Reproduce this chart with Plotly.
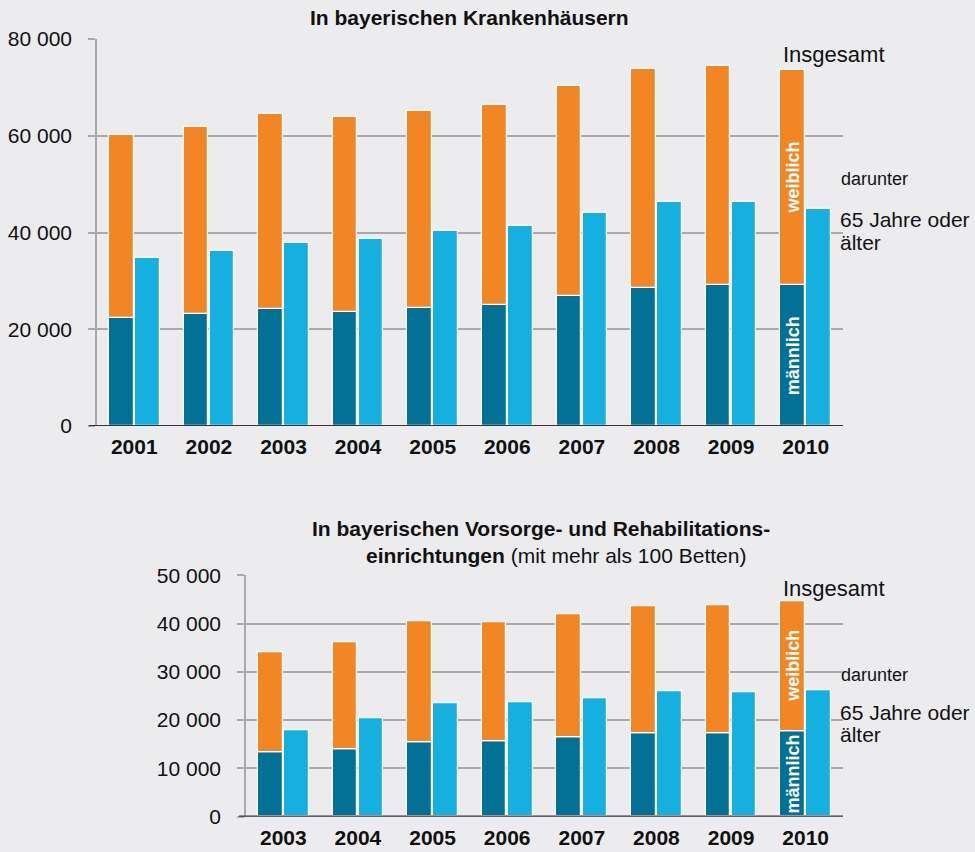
import plotly.graph_objects as go

# ---- Data: In bayerischen Krankenhäusern ----
jahre_kh = ["2001", "2002", "2003", "2004", "2005", "2006", "2007", "2008", "2009", "2010"]
insgesamt_kh = [60200, 61900, 64500, 63900, 65200, 66400, 70300, 73800, 74500, 73500]
maennlich_kh = [22300, 23100, 24100, 23500, 24300, 25000, 26800, 28600, 29100, 29100]
ab65_kh = [34700, 36200, 37900, 38600, 40400, 41400, 44000, 46300, 46300, 44900]

# ---- Data: In bayerischen Vorsorge- und Rehabilitationseinrichtungen ----
jahre_reha = ["2003", "2004", "2005", "2006", "2007", "2008", "2009", "2010"]
insgesamt_reha = [33950, 36100, 40400, 40300, 41900, 43500, 43800, 44650]
maennlich_reha = [13350, 14000, 15450, 15550, 16450, 17200, 17350, 17750]
ab65_reha = [17950, 20450, 23450, 23700, 24550, 25950, 25750, 26250]

tick_kh = [0, 20000, 40000, 60000, 80000]
tick_kh_text = ["0", "20 000", "40 000", "60 000", "80 000"]
tick_reha = [0, 10000, 20000, 30000, 40000, 50000]
tick_reha_text = ["0", "10 000", "20 000", "30 000", "40 000", "50 000"]

weiblich_kh = [t - m for t, m in zip(insgesamt_kh, maennlich_kh)]
weiblich_reha = [t - m for t, m in zip(insgesamt_reha, maennlich_reha)]

ORANGE = "#F38624"
DARK = "#037196"
LIGHT = "#16B0E0"
BG = "#ECECEF"
GRID = "#A9A9AB"
FONT = "Liberation Sans, Arial, sans-serif"

W, H = 975, 852

fig = go.Figure()

def add_group(x, male, female, old, xa, ya):
    line = dict(color="white", width=1.2)
    fig.add_trace(go.Bar(x=x, y=male, marker=dict(color=DARK, line=line),
                         offset=-0.34, width=0.33, xaxis=xa, yaxis=ya, showlegend=False,
                         hoverinfo="skip"))
    fig.add_trace(go.Bar(x=x, y=female, base=male, marker=dict(color=ORANGE, line=line),
                         offset=-0.34, width=0.33, xaxis=xa, yaxis=ya, showlegend=False,
                         hoverinfo="skip"))
    fig.add_trace(go.Bar(x=x, y=old, marker=dict(color=LIGHT, line=line),
                         offset=0.01, width=0.33, xaxis=xa, yaxis=ya, showlegend=False,
                         hoverinfo="skip"))

add_group(jahre_kh, maennlich_kh, weiblich_kh, ab65_kh, "x", "y")
add_group(jahre_reha, maennlich_reha, weiblich_reha, ab65_reha, "x2", "y2")

xdom_top = [97 / W, 843 / W]
xdom_bot = [246 / W, 843 / W]

xcommon = dict(type="category", showgrid=False, zeroline=False, showline=False, ticks="",
               automargin=False,
               tickfont=dict(family=FONT, size=21, color="#111", weight="bold"),
               ticklabelstandoff=6)
ycommon = dict(showgrid=True, gridcolor=GRID, gridwidth=1.5, zeroline=False,
               showline=True, linecolor=GRID, linewidth=1.5, automargin=False,
               ticks="outside", ticklen=7, tickcolor=GRID, tickwidth=1.5,
               tickfont=dict(family=FONT, size=21, color="#111"), ticklabelstandoff=12)

fig.update_layout(
    width=W, height=H, autosize=False,
    margin=dict(l=0, r=0, t=0, b=0, pad=0),
    paper_bgcolor=BG, plot_bgcolor=BG,
    barmode="overlay", bargap=0,
    font=dict(family=FONT, color="#111"),
    xaxis=dict(domain=xdom_top, anchor="y", range=[-0.5, 9.5],
               categoryorder="array", categoryarray=jahre_kh, **xcommon),
    yaxis=dict(domain=[1 - 426 / H, 1 - 39 / H], anchor="x", range=[0, 80000],
               tickvals=tick_kh, ticktext=tick_kh_text, **ycommon),
    xaxis2=dict(domain=xdom_bot, anchor="y2", range=[-0.5, 7.5],
                categoryorder="array", categoryarray=jahre_reha, **xcommon),
    yaxis2=dict(domain=[1 - 816.7 / H, 1 - 575.3 / H], anchor="x2", range=[0, 50000],
                tickvals=tick_reha, ticktext=tick_reha_text, **ycommon),
)

# dark baselines
fig.add_shape(type="line", xref="paper", yref="y", x0=89 / W, x1=843 / W, y0=0, y1=0,
              line=dict(color="#333", width=2.2))
fig.add_shape(type="line", xref="paper", yref="y2", x0=239 / W, x1=843 / W, y0=0, y1=0,
              line=dict(color="#333", width=2.2))

def ann(text, x, y, size, **kw):
    d = dict(text=text, x=x / W, y=1 - y / H, xref="paper", yref="paper",
             showarrow=False, font=dict(family=FONT, size=size, color="#111"),
             xanchor=kw.pop("xanchor", "left"), yanchor="middle")
    d.update(kw)
    fig.add_annotation(**d)

# titles
ann("<b>In bayerischen Krankenhäusern</b>", 469, 18, 21, xanchor="center")
ann("<b>In bayerischen Vorsorge- und Rehabilitations-</b>", 541, 528, 21, xanchor="center")
ann("<b>einrichtungen</b> (mit mehr als 100 Betten)", 556, 555, 21, xanchor="center")

# side labels, top chart
ann("Insgesamt", 781, 55, 22)
ann("darunter", 839, 179, 18)
ann("65 Jahre oder", 838, 220, 21)
ann("älter", 838, 242, 21)
# side labels, bottom chart
ann("Insgesamt", 781, 588, 22)
ann("darunter", 839, 675, 18)
ann("65 Jahre oder", 838, 712, 21)
ann("älter", 838, 734, 21)

# rotated in-bar labels for the last year (category index)
def bar_label(text, xa, ya, idx, yval):
    fig.add_annotation(text="<b>%s</b>" % text, x=idx, y=yval, xref=xa, yref=ya,
                       showarrow=False, textangle=-90, xshift=-13,
                       font=dict(family=FONT, size=18, color="white"),
                       xanchor="center", yanchor="middle")

i_kh = len(jahre_kh) - 1
i_reha = len(jahre_reha) - 1
bar_label("weiblich", "x", "y", i_kh, maennlich_kh[i_kh] + weiblich_kh[i_kh] / 2)
bar_label("männlich", "x", "y", i_kh, maennlich_kh[i_kh] / 2)
bar_label("weiblich", "x2", "y2", i_reha, maennlich_reha[i_reha] + weiblich_reha[i_reha] / 2)
bar_label("männlich", "x2", "y2", i_reha, maennlich_reha[i_reha] / 2)

fig.write_html("out.html", config={"displayModeBar": False},
               post_script="document.body.style.margin='0';document.body.style.padding='0';"
                           "document.body.style.overflow='hidden';")
